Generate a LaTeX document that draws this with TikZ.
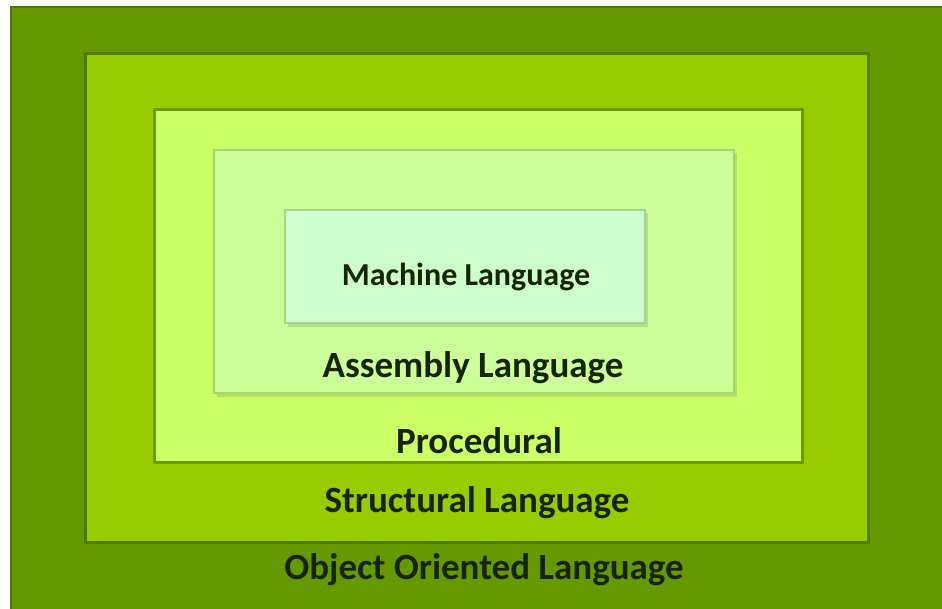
\documentclass[tikz,border=0pt]{standalone}
\usepackage{fontspec}
\setmainfont{Carlito}
\definecolor{ooFill}{HTML}{669900}
\definecolor{ooLine}{HTML}{4C7A00}
\definecolor{stFill}{HTML}{99CC00}
\definecolor{stLine}{HTML}{4E7D00}
\definecolor{prFill}{HTML}{CCFF66}
\definecolor{prLine}{HTML}{6E9A10}
\definecolor{asFill}{HTML}{CCFF99}
\definecolor{asLine}{HTML}{A6D66E}
\definecolor{maFill}{HTML}{CCFFCC}
\definecolor{maLine}{HTML}{A9D48C}
\definecolor{label}{HTML}{162400}
\tikzset{
  layer/.style={line width=#1},
  tag/.style={text=label, font=\bfseries\fontsize{37}{42}\selectfont, inner sep=0pt},
  softshadow/.style={fill=black, opacity=0.12}
}
\begin{document}
\begin{tikzpicture}[x=1pt,y=-1pt]
  \useasboundingbox (0,0) rectangle (942,609);
  \fill[white] (0,0) rectangle (942,609);
  % outermost layer
  \draw[layer=2.5, draw=ooLine, fill=ooFill] (11,7) rectangle (946,614);
  % structural layer
  \draw[layer=3, draw=stLine, fill=stFill] (85,54) rectangle (868,542);
  % procedural layer
  \draw[layer=3, draw=prLine, fill=prFill] (154,110) rectangle (802,462);
  % assembly layer with soft shadow
  \fill[softshadow] (217,153) rectangle (737,397);
  \draw[layer=1.5, draw=asLine, fill=asFill] (214,150) rectangle (734,393);
  % machine layer with soft shadow
  \fill[softshadow] (288,213) rectangle (648,327);
  \draw[layer=1.5, draw=maLine, fill=maFill] (285,210) rectangle (645,323);
  % labels
  \node[tag, font=\bfseries\fontsize{32}{36}\selectfont] (ml) at (466,277) {Machine Language};
  \node[tag] (al) at (473,368) {Assembly Language};
  \node[tag] (pr) at (479,441) {Procedural};
  \node[tag] (sl) at (477,503) {Structural Language};
  \node[tag] (ol) at (484,570) {Object Oriented Language};
\end{tikzpicture}
\end{document}
